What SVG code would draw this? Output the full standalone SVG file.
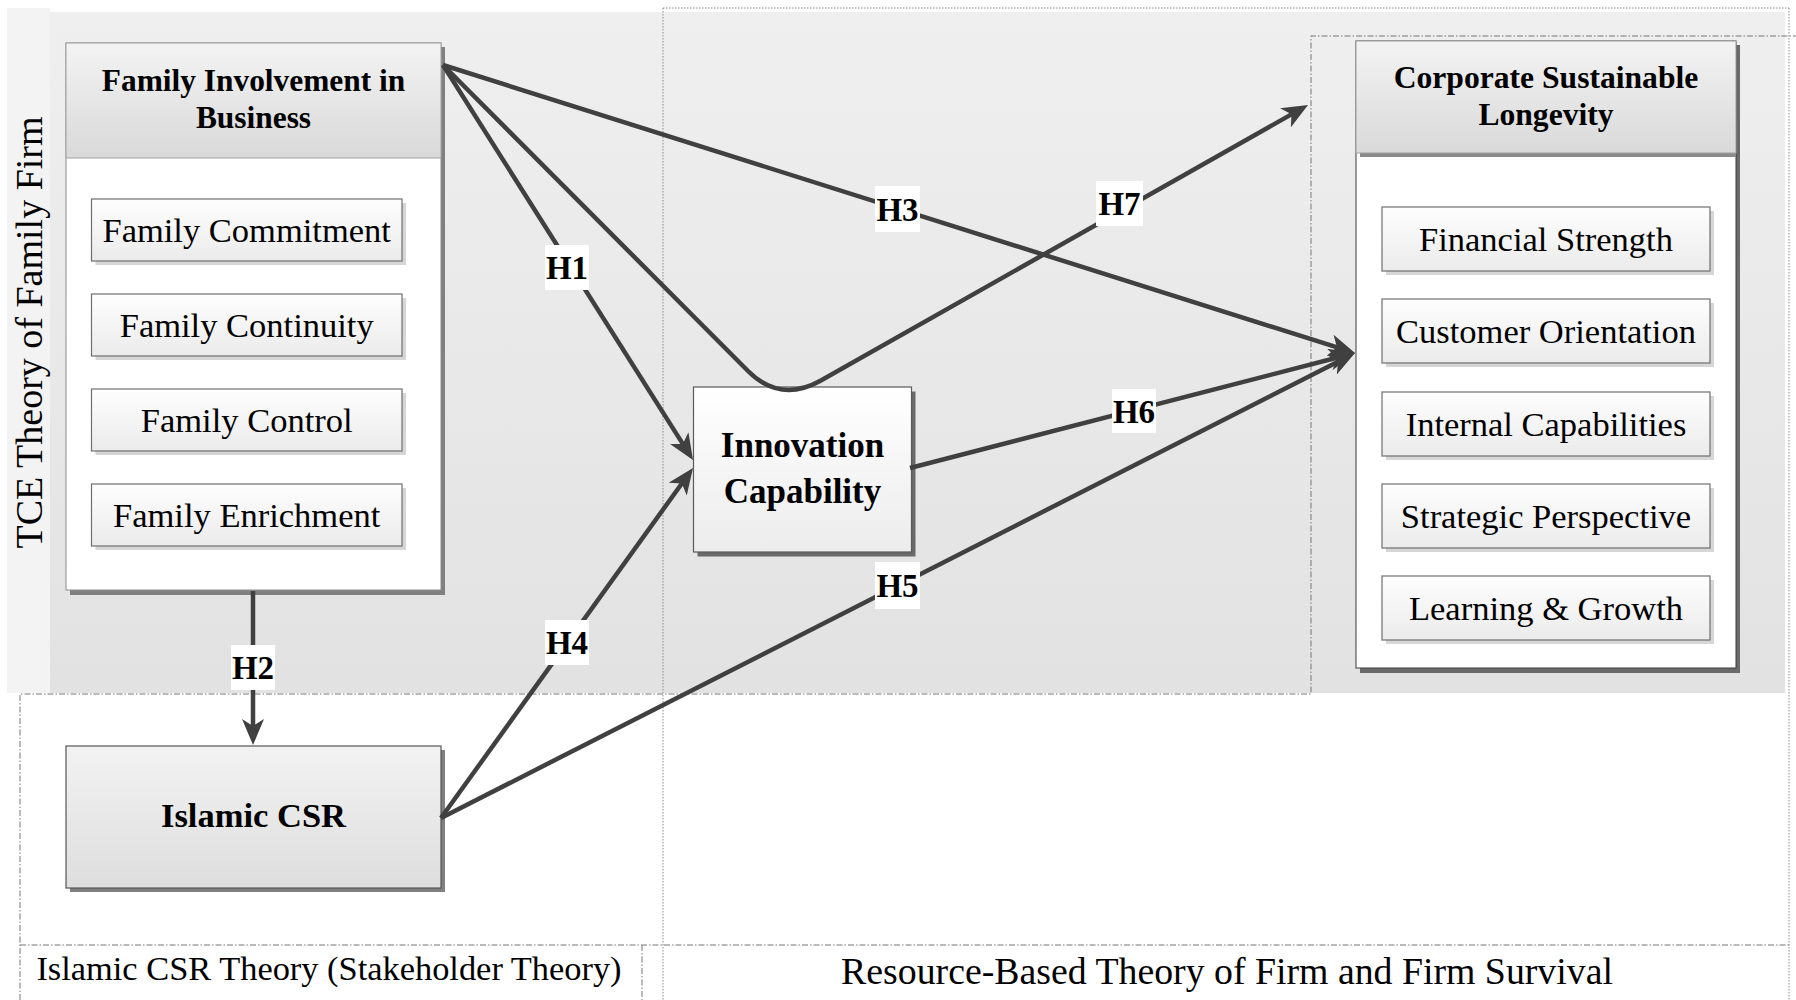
<svg xmlns="http://www.w3.org/2000/svg" width="1796" height="1000" viewBox="0 0 1796 1000">
<defs>
<linearGradient id="bg" x1="0" y1="0" x2="0" y2="1"><stop offset="0" stop-color="#efefef"/><stop offset="1" stop-color="#e2e2e2"/></linearGradient>
<linearGradient id="hdr" x1="0" y1="0" x2="0" y2="1"><stop offset="0" stop-color="#f3f3f3"/><stop offset="1" stop-color="#d9d9d9"/></linearGradient>
<linearGradient id="sub" x1="0" y1="0" x2="0" y2="1"><stop offset="0" stop-color="#fefefe"/><stop offset="1" stop-color="#ebebeb"/></linearGradient>
<linearGradient id="inn" x1="0" y1="0" x2="0" y2="1"><stop offset="0" stop-color="#ffffff"/><stop offset="1" stop-color="#ececec"/></linearGradient>
<linearGradient id="csr" x1="0" y1="0" x2="0" y2="1"><stop offset="0" stop-color="#f2f2f2"/><stop offset="1" stop-color="#dedede"/></linearGradient>
<marker id="ah" markerUnits="userSpaceOnUse" markerWidth="26" markerHeight="22" viewBox="0 0 26 22" refX="14" refY="11" orient="auto">
<path d="M0,0 L26,11 L0,22 L7,11 Z" fill="#404040"/>
</marker>
</defs>
<style>
.t{font-family:"Liberation Serif","Times New Roman",serif;fill:#000}
.sub{font-size:34.5px;text-anchor:middle}
.bold{font-weight:bold;text-anchor:middle}
.hl{font-size:33px}
.subbox{fill:url(#sub);stroke:#6f6f6f;stroke-width:1.2}
.subsh{fill:#d6d6d6}
.con{fill:none;stroke:#404040;stroke-width:4.5;stroke-linejoin:round}
.dot{fill:none;stroke:#8a8a8a;stroke-width:1;stroke-dasharray:1.5 1.5}
.dd{fill:none;stroke:#777;stroke-width:1;stroke-dasharray:6 2 1.5 2}
.lbl{fill:#fff}
</style>

<g id="background">
<rect x="7" y="8" width="43" height="685" fill="#f3f3f3"/>
<rect x="50" y="12" width="1735" height="681" fill="url(#bg)"/>
<line class="dot" x1="663" y1="8" x2="1789" y2="8"/>
<line class="dot" x1="663" y1="8" x2="663" y2="1000"/>
<line class="dot" x1="1789" y1="8" x2="1789" y2="1000"/>
<polyline class="dd" points="20,1000 20,694 1311,694 1311,36 1796,36"/>
<line class="dd" x1="20" y1="945" x2="1789" y2="945"/>
<line class="dd" x1="642" y1="945" x2="642" y2="1000"/>
<text class="t" font-size="38" text-anchor="middle" transform="translate(42,332.5) rotate(-90)">TCE Theory of Family Firm</text>
<text class="t" font-size="34.4" text-anchor="middle" x="329" y="980">Islamic CSR Theory (Stakeholder Theory)</text>
<text class="t" font-size="37.8" text-anchor="middle" x="1227" y="984">Resource-Based Theory of Firm and Firm Survival</text>
</g>

<g id="family-involvement">
<rect x="70" y="47" width="375" height="548" fill="#808080"/>
<rect x="66" y="43" width="375" height="547" fill="#ffffff" stroke="#8c8c8c" stroke-width="1"/>
<rect x="66" y="43" width="375" height="115" fill="url(#hdr)" stroke="#a0a0a0" stroke-width="1"/>
<text class="t bold" font-size="31.4" x="253.5" y="91">Family Involvement in</text>
<text class="t bold" font-size="31.4" x="253.5" y="128">Business</text>
<g id="family-commitment"><rect class="subsh" x="95.5" y="203" width="310.5" height="62"/><rect class="subbox" x="91.5" y="199" width="310.5" height="62"/><text class="t sub" x="246.7" y="241.5">Family Commitment</text></g>
<g id="family-continuity"><rect class="subsh" x="95.5" y="298" width="310.5" height="62"/><rect class="subbox" x="91.5" y="294" width="310.5" height="62"/><text class="t sub" x="246.7" y="336.5">Family Continuity</text></g>
<g id="family-control"><rect class="subsh" x="95.5" y="393" width="310.5" height="62"/><rect class="subbox" x="91.5" y="389" width="310.5" height="62"/><text class="t sub" x="246.7" y="431.5">Family Control</text></g>
<g id="family-enrichment"><rect class="subsh" x="95.5" y="488" width="310.5" height="62"/><rect class="subbox" x="91.5" y="484" width="310.5" height="62"/><text class="t sub" x="246.7" y="526.5">Family Enrichment</text></g>
</g>

<g id="corporate-longevity">
<rect x="1360" y="45" width="380" height="628" fill="#6a6a6a"/>
<rect x="1356" y="41" width="380" height="627" fill="#ffffff" stroke="#3a3a3a" stroke-width="1"/>
<rect x="1360" y="153" width="376" height="4" fill="#8a8a8a"/>
<rect x="1356" y="41" width="380" height="112" fill="url(#hdr)" stroke="#a0a0a0" stroke-width="1"/>
<text class="t bold" font-size="31.6" x="1546" y="88">Corporate Sustainable</text>
<text class="t bold" font-size="31.6" x="1546" y="125">Longevity</text>
<g id="financial-strength"><rect class="subsh" x="1386" y="211" width="328" height="64"/><rect class="subbox" x="1382" y="207" width="328" height="64"/><text class="t sub" x="1546" y="250.5">Financial Strength</text></g>
<g id="customer-orientation"><rect class="subsh" x="1386" y="303" width="328" height="64"/><rect class="subbox" x="1382" y="299" width="328" height="64"/><text class="t sub" x="1546" y="342.5">Customer Orientation</text></g>
<g id="internal-capabilities"><rect class="subsh" x="1386" y="396" width="328" height="64"/><rect class="subbox" x="1382" y="392" width="328" height="64"/><text class="t sub" x="1546" y="435.5">Internal Capabilities</text></g>
<g id="strategic-perspective"><rect class="subsh" x="1386" y="488" width="328" height="64"/><rect class="subbox" x="1382" y="484" width="328" height="64"/><text class="t sub" x="1546" y="527.5">Strategic Perspective</text></g>
<g id="learning-growth"><rect class="subsh" x="1386" y="580" width="328" height="64"/><rect class="subbox" x="1382" y="576" width="328" height="64"/><text class="t sub" x="1546" y="619.5">Learning &amp; Growth</text></g>
</g>

<g id="innovation-capability">
<rect x="697.5" y="391.5" width="218" height="165" fill="#6a6a6a"/>
<rect x="693.5" y="387" width="218" height="165" fill="url(#inn)" stroke="#5a5a5a" stroke-width="1.2"/>
<text class="t bold" font-size="35" x="802.5" y="457">Innovation</text>
<text class="t bold" font-size="35" x="802.5" y="503">Capability</text>
</g>

<g id="islamic-csr">
<rect x="70" y="750" width="375" height="142" fill="#808080"/>
<rect x="66" y="746" width="375" height="142" fill="url(#csr)" stroke="#555" stroke-width="1.2"/>
<text class="t bold" font-size="34.5" x="253.5" y="826.5">Islamic CSR</text>
</g>

<g id="connectors">
<line class="con" x1="443" y1="65" x2="686.6" y2="449.9" marker-end="url(#ah)"/>
<line class="con" x1="443" y1="65" x2="1343.6" y2="349.4" marker-end="url(#ah)"/>
<path class="con" d="M443,65 L748,371 Q780,403 820,381 L1297.6,110.9" marker-end="url(#ah)"/>
<line class="con" x1="441" y1="818" x2="686" y2="477.7" marker-end="url(#ah)"/>
<line class="con" x1="441" y1="818" x2="1344.3" y2="358.4" marker-end="url(#ah)"/>
<line class="con" x1="910" y1="468" x2="1343.4" y2="356" marker-end="url(#ah)"/>
<line class="con" x1="253" y1="591" x2="253" y2="733" marker-end="url(#ah)"/>
</g>

<g id="connector-labels">
<rect class="lbl" x="545" y="245" width="44" height="45"/><text class="t bold hl" x="567" y="279">H1</text>
<rect class="lbl" x="231" y="645" width="44" height="45"/><text class="t bold hl" x="253" y="679">H2</text>
<rect class="lbl" x="875" y="186" width="45" height="46"/><text class="t bold hl" x="897.5" y="220.5">H3</text>
<rect class="lbl" x="545" y="620" width="44" height="45"/><text class="t bold hl" x="567" y="654">H4</text>
<rect class="lbl" x="875" y="562" width="45" height="47"/><text class="t bold hl" x="897.5" y="597">H5</text>
<rect class="lbl" x="1112" y="389" width="44" height="44"/><text class="t bold hl" x="1134" y="422.5">H6</text>
<rect class="lbl" x="1096" y="181" width="47" height="45"/><text class="t bold hl" x="1119.5" y="215">H7</text>
</g>
</svg>
